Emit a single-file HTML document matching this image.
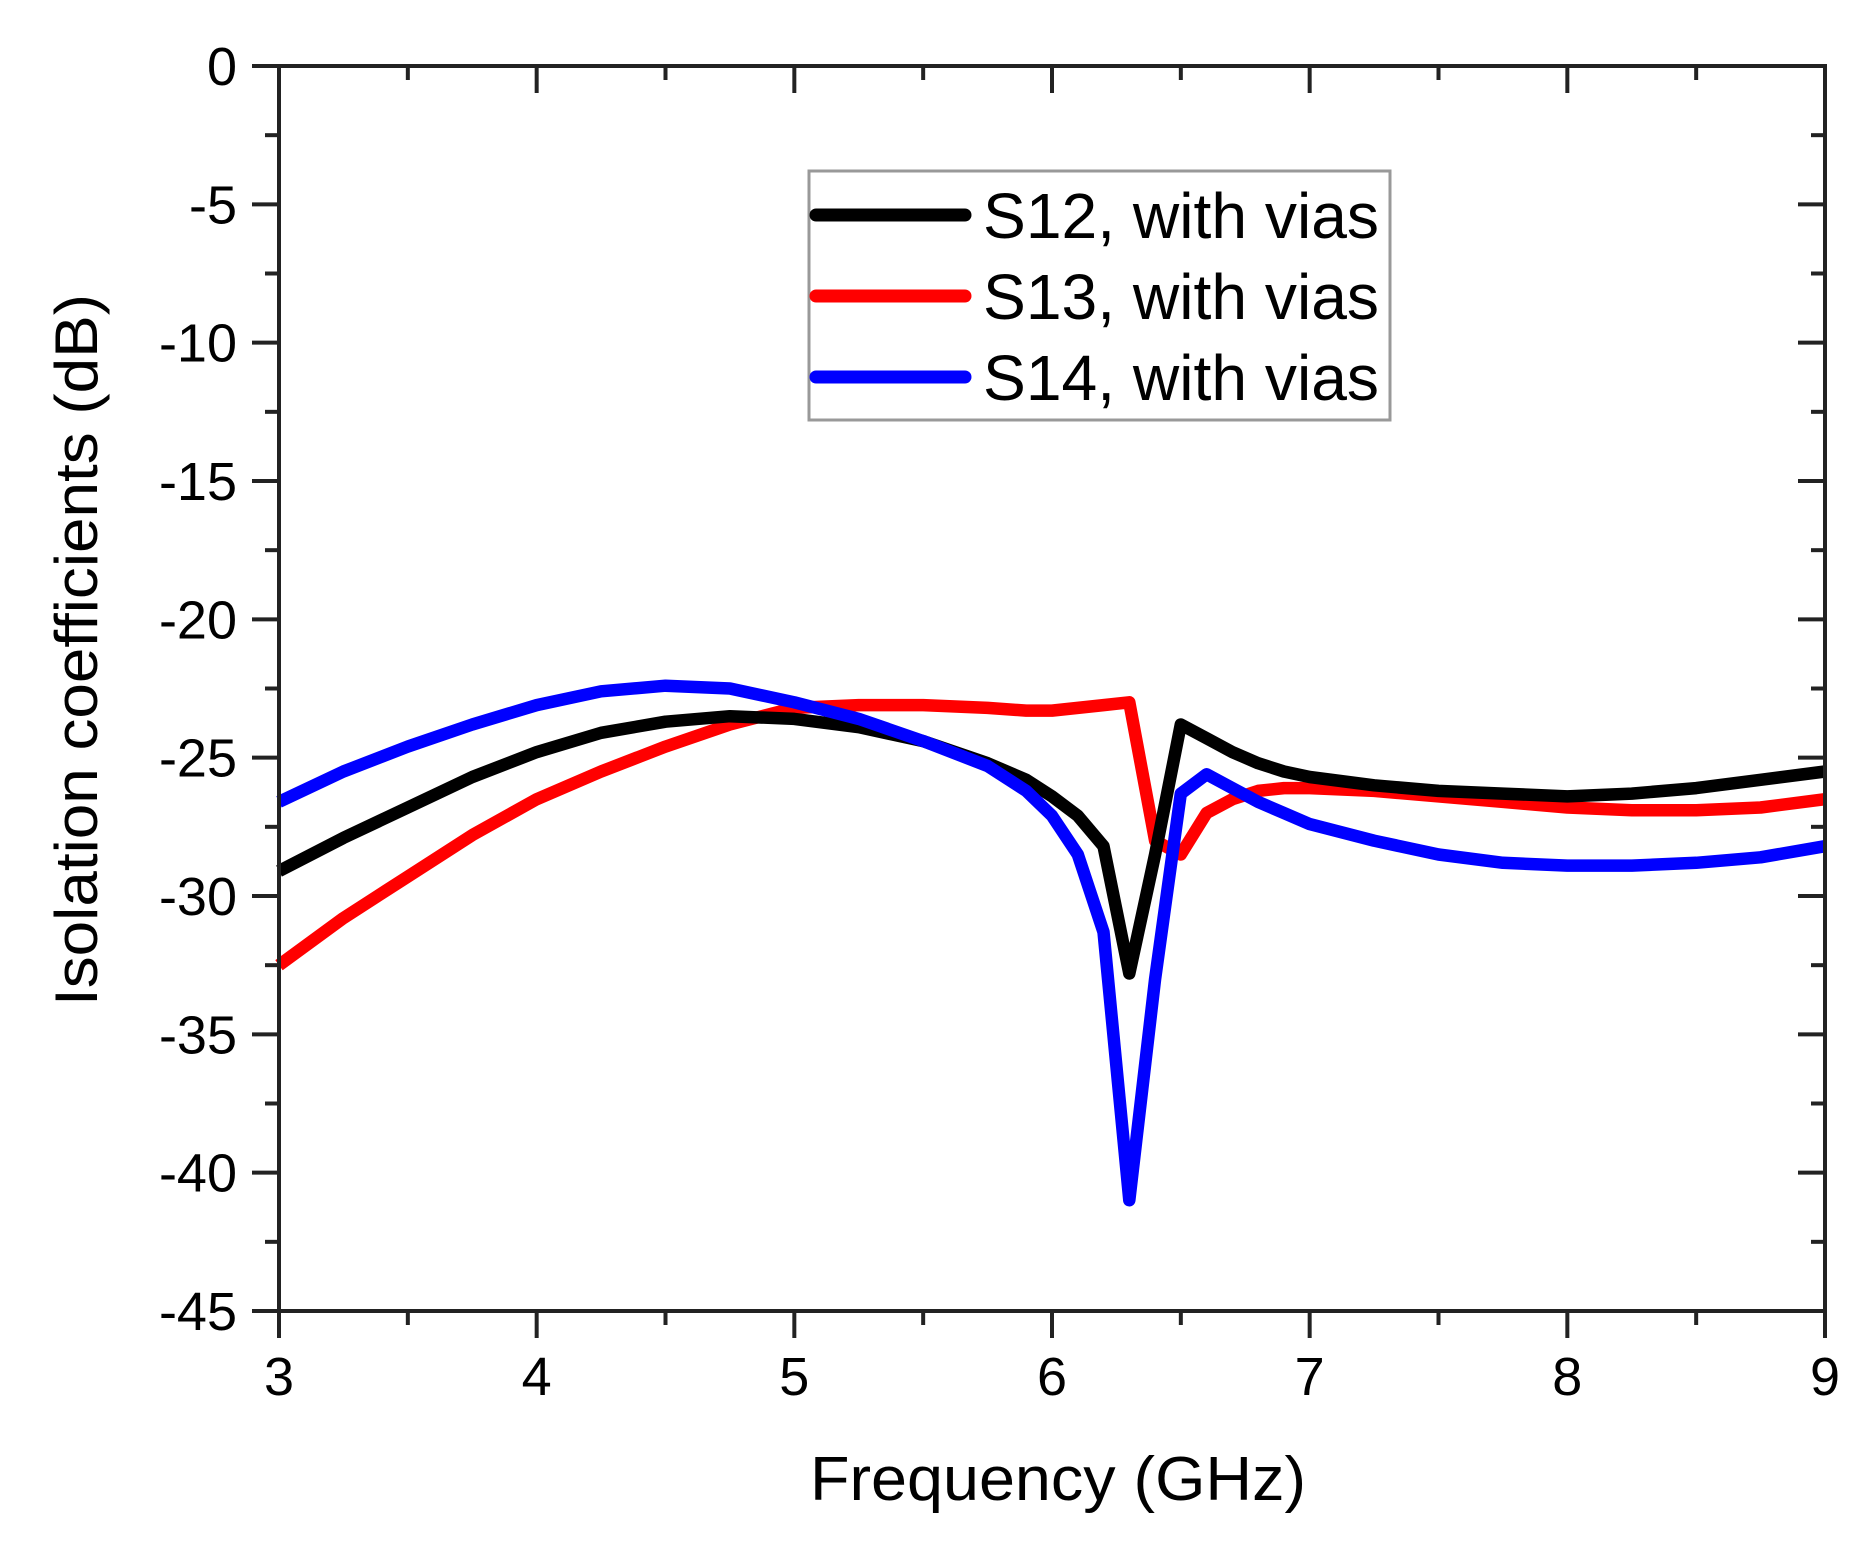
<!DOCTYPE html>
<html><head><meta charset="utf-8"><style>
html,body{margin:0;padding:0;background:#fff;}
svg{display:block;font-family:"Liberation Sans",sans-serif;}
</style></head><body>
<svg id="chart" width="1872" height="1541" viewBox="0 0 1872 1541" xmlns="http://www.w3.org/2000/svg">
<g id="series"></g>
<g id="axes"></g>
<text x="1058" y="1500" font-size="62" text-anchor="middle" textLength="496" lengthAdjust="spacingAndGlyphs">Frequency (GHz)</text>
<text transform="translate(97,650) rotate(-90)" font-size="60" text-anchor="middle" textLength="712" lengthAdjust="spacingAndGlyphs">Isolation coefficients (dB)</text>
<g>
<rect x="809" y="171" width="581" height="249" fill="#fff" stroke="#999" stroke-width="3"/>
<line x1="816" y1="215" x2="965" y2="215" stroke="#000" stroke-width="13" stroke-linecap="round"/>
<line x1="816" y1="296" x2="965" y2="296" stroke="#f00" stroke-width="13" stroke-linecap="round"/>
<line x1="816" y1="377" x2="965" y2="377" stroke="#00f" stroke-width="13" stroke-linecap="round"/>
<text x="983" y="238" font-size="64" textLength="396" lengthAdjust="spacingAndGlyphs">S12, with vias</text>
<text x="983" y="319" font-size="64" textLength="396" lengthAdjust="spacingAndGlyphs">S13, with vias</text>
<text x="983" y="400" font-size="64" textLength="396" lengthAdjust="spacingAndGlyphs">S14, with vias</text>
</g>
</svg>
<script>
const xTicks = [3,4,5,6,7,8,9];
const yTicks = [0,-5,-10,-15,-20,-25,-30,-35,-40,-45];
const freq = [3,3.25,3.5,3.75,4,4.25,4.5,4.75,5,5.25,5.5,5.75,5.9,6,6.1,6.2,6.3,6.4,6.5,6.6,6.7,6.8,6.9,7,7.25,7.5,7.75,8,8.25,8.5,8.75,9];
const s12 = [-29.1,-27.9,-26.8,-25.7,-24.8,-24.1,-23.7,-23.5,-23.6,-23.9,-24.4,-25.2,-25.8,-26.4,-27.1,-28.2,-32.8,-28.5,-23.8,-24.3,-24.8,-25.2,-25.5,-25.7,-26.0,-26.2,-26.3,-26.4,-26.3,-26.1,-25.8,-25.5];
const s13 = [-32.5,-30.8,-29.3,-27.8,-26.5,-25.5,-24.6,-23.8,-23.2,-23.1,-23.1,-23.2,-23.3,-23.3,-23.2,-23.1,-23.0,-28.0,-28.5,-27.0,-26.5,-26.2,-26.1,-26.1,-26.2,-26.4,-26.6,-26.8,-26.9,-26.9,-26.8,-26.5];
const s14 = [-26.6,-25.5,-24.6,-23.8,-23.1,-22.6,-22.4,-22.5,-23.0,-23.6,-24.4,-25.3,-26.2,-27.1,-28.5,-31.3,-41.0,-33.0,-26.3,-25.6,-26.1,-26.6,-27.0,-27.4,-28.0,-28.5,-28.8,-28.9,-28.9,-28.8,-28.6,-28.2];
const X0=279,X1=1825,Y0=66,Y1=1311;
const xs = v => X0+(v-3)/6*(X1-X0);
const ys = v => Y0+(-v)/45*(Y1-Y0);
const NS="http://www.w3.org/2000/svg";
function mk(tag,attrs,parent){const e=document.createElementNS(NS,tag);for(const k in attrs)e.setAttribute(k,attrs[k]);parent.appendChild(e);return e;}
const ser=document.getElementById('series');
[[s13,'#f00','series-s13'],[s12,'#000','series-s12'],[s14,'#00f','series-s14']].forEach(([d,c,n])=>{
  const p=mk('polyline',{points:d.map((v,i)=>xs(freq[i]).toFixed(1)+','+ys(v).toFixed(1)).join(' '),fill:'none',stroke:c,'stroke-width':12.5,'stroke-linejoin':'round'},ser);
  
  
});
const ax=document.getElementById('axes');
const frame=mk('rect',{x:X0,y:Y0,width:X1-X0,height:Y1-Y0,fill:'none',stroke:'#222','stroke-width':4},ax);


for(let v=3;v<=9.001;v+=0.5){
  const major=Math.abs(v-Math.round(v))<1e-6;const x=xs(v);const L=major?27:14;
  mk('line',{x1:x,y1:Y1,x2:x,y2:Y1+L,stroke:'#222','stroke-width':4},ax);
  mk('line',{x1:x,y1:Y0,x2:x,y2:Y0+L,stroke:'#222','stroke-width':4},ax);
}
for(let v=0;v>=-45.001;v-=2.5){
  const major=Math.abs(v/5-Math.round(v/5))<1e-6;const y=ys(v);const L=major?27:14;
  mk('line',{x1:X0-L,y1:y,x2:X0,y2:y,stroke:'#222','stroke-width':4},ax);
  mk('line',{x1:X1-L,y1:y,x2:X1,y2:y,stroke:'#222','stroke-width':4},ax);
}
xTicks.forEach(v=>{
  const t=mk('text',{x:xs(v),y:1395,'font-size':54,'text-anchor':'middle'},ax);t.textContent=v;
  
  
});
yTicks.forEach(v=>{
  const t=mk('text',{x:237,y:ys(v)+19,'font-size':54,'text-anchor':'end'},ax);t.textContent=v;
  
  
});
</script>
</body></html>
